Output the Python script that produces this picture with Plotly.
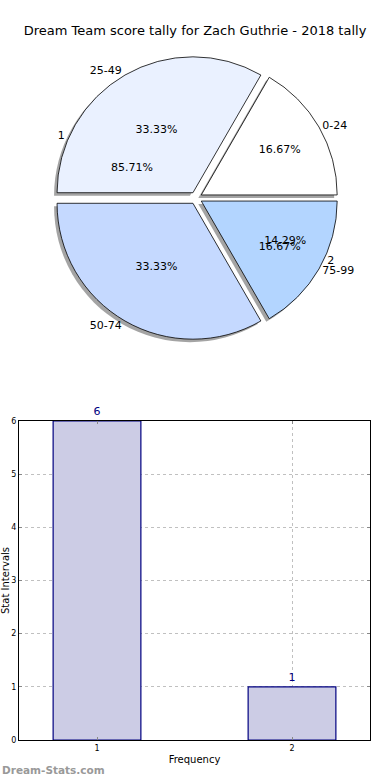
import plotly.graph_objects as go

# ---- data ----
title_text = "Dream Team score tally for Zach Guthrie - 2018 tally"
range_labels = ["0-24", "25-49", "50-74", "75-99"]
range_values = [1, 2, 2, 1]
freq_labels = ["1", "2"]
freq_values = [6, 1]
bar_x = [1, 2]
bar_y = [6, 1]

pie_colors = ["#ffffff", "#eaf1ff", "#c5d9ff", "#b3d5ff"]
FONT = "DejaVu Sans"
W, H = 390, 780

def px_x(x):
    return x / W

def px_y(y):
    return 1 - y / H

def start_rot(values):
    # first slice starts at 3 o'clock and runs counterclockwise
    return 90 - 360.0 * values[0] / sum(values)

# pie geometry (pixel centre / radius)
cx, cy, R = 196, 198, 142
dom_x = [px_x(cx - R), px_x(cx + R)]
dom_y = [px_y(cy + R), px_y(cy - R)]
sh = 3
shadow_x = [px_x(cx - R - sh), px_x(cx + R - sh)]
shadow_y = [px_y(cy + R + sh), px_y(cy - R + sh)]

pull = [0.045] * 4
common = dict(sort=False, direction="counterclockwise",
              hoverinfo="skip", showlegend=False)
rot_a = start_rot(range_values)
rot_b = start_rot(freq_values)

fig = go.Figure()

# shadow
fig.add_trace(go.Pie(labels=range_labels, values=range_values, pull=pull, rotation=rot_a,
                     domain=dict(x=shadow_x, y=shadow_y),
                     marker=dict(colors=["rgba(90,90,90,0.55)"] * 4,
                                 line=dict(width=0)),
                     textinfo="none", **common))
# main pie with inside percents
fig.add_trace(go.Pie(labels=range_labels, values=range_values, pull=pull, rotation=rot_a,
                     domain=dict(x=dom_x, y=dom_y),
                     marker=dict(colors=pie_colors, line=dict(color="black", width=0.8)),
                     textinfo="percent", texttemplate="%{percent:.2%}",
                     textposition="inside", insidetextorientation="horizontal",
                     textfont=dict(family=FONT, size=11, color="black"), **common))
# main pie outside labels
fig.add_trace(go.Pie(labels=range_labels, values=range_values, pull=pull, rotation=rot_a,
                     domain=dict(x=dom_x, y=dom_y),
                     marker=dict(colors=["rgba(0,0,0,0)"] * 4, line=dict(width=0)),
                     textinfo="label", textposition="outside",
                     textfont=dict(family=FONT, size=11, color="black"), **common))
# second (frequency) pie - only texts
fig.add_trace(go.Pie(labels=freq_labels, values=freq_values, rotation=rot_b,
                     domain=dict(x=dom_x, y=dom_y),
                     marker=dict(colors=["rgba(0,0,0,0)"] * 2, line=dict(width=0)),
                     textinfo="percent", texttemplate="%{percent:.2%}",
                     textposition="inside", insidetextorientation="horizontal",
                     textfont=dict(family=FONT, size=11, color="black"), **common))
fig.add_trace(go.Pie(labels=freq_labels, values=freq_values, rotation=rot_b,
                     domain=dict(x=dom_x, y=dom_y),
                     marker=dict(colors=["rgba(0,0,0,0)"] * 2, line=dict(width=0)),
                     textinfo="label", textposition="outside",
                     textfont=dict(family=FONT, size=11, color="black"), **common))

# bar chart
fig.add_trace(go.Bar(x=bar_x, y=bar_y, width=0.45,
                     marker=dict(color="#ccccE5", line=dict(color="#000080", width=1.2)),
                     text=[str(v) for v in bar_y], textposition="outside",
                     textfont=dict(family=FONT, size=11, color="#000080"),
                     cliponaxis=False, hoverinfo="skip", showlegend=False))

axis_common = dict(showline=True, linecolor="black", linewidth=1, mirror="ticks",
                   ticks="inside", ticklen=3, tickcolor="#888888", automargin=False,
                   showgrid=True, gridcolor="#c0c0c0", griddash="dot", gridwidth=1,
                   zeroline=False, tickfont=dict(family=FONT, size=8, color="black"))

fig.update_layout(
    width=W, height=H,
    margin=dict(l=0, r=0, t=0, b=0),
    paper_bgcolor="white", plot_bgcolor="white",
    font=dict(family=FONT, color="black"),
    title=dict(text=title_text, x=0.5, xanchor="center", y=px_y(30), yanchor="middle",
               font=dict(family=FONT, size=13, color="black")),
    xaxis=dict(domain=[px_x(19), px_x(370)], range=[0.6, 2.4],
               tickvals=bar_x, ticktext=[str(v) for v in bar_x],
               title=dict(text="Frequency", standoff=4,
                          font=dict(family=FONT, size=10)),
               **axis_common),
    yaxis=dict(domain=[px_y(740), px_y(421)], range=[0, 6], dtick=1,
               title=dict(text="Stat Intervals", standoff=2,
                          font=dict(family=FONT, size=10)),
               **axis_common),
    uniformtext=dict(minsize=8, mode="show"),
    annotations=[dict(text="<b>Dream-Stats.com</b>", x=0, xanchor="left",
                      y=px_y(770), yanchor="middle", xref="paper", yref="paper",
                      showarrow=False, font=dict(family=FONT, size=10.5, color="#999999"))],
)

fig.write_html("out.html", config={"displayModeBar": False},
               post_script="document.body.style.margin='0px';document.body.style.overflow='hidden';")
